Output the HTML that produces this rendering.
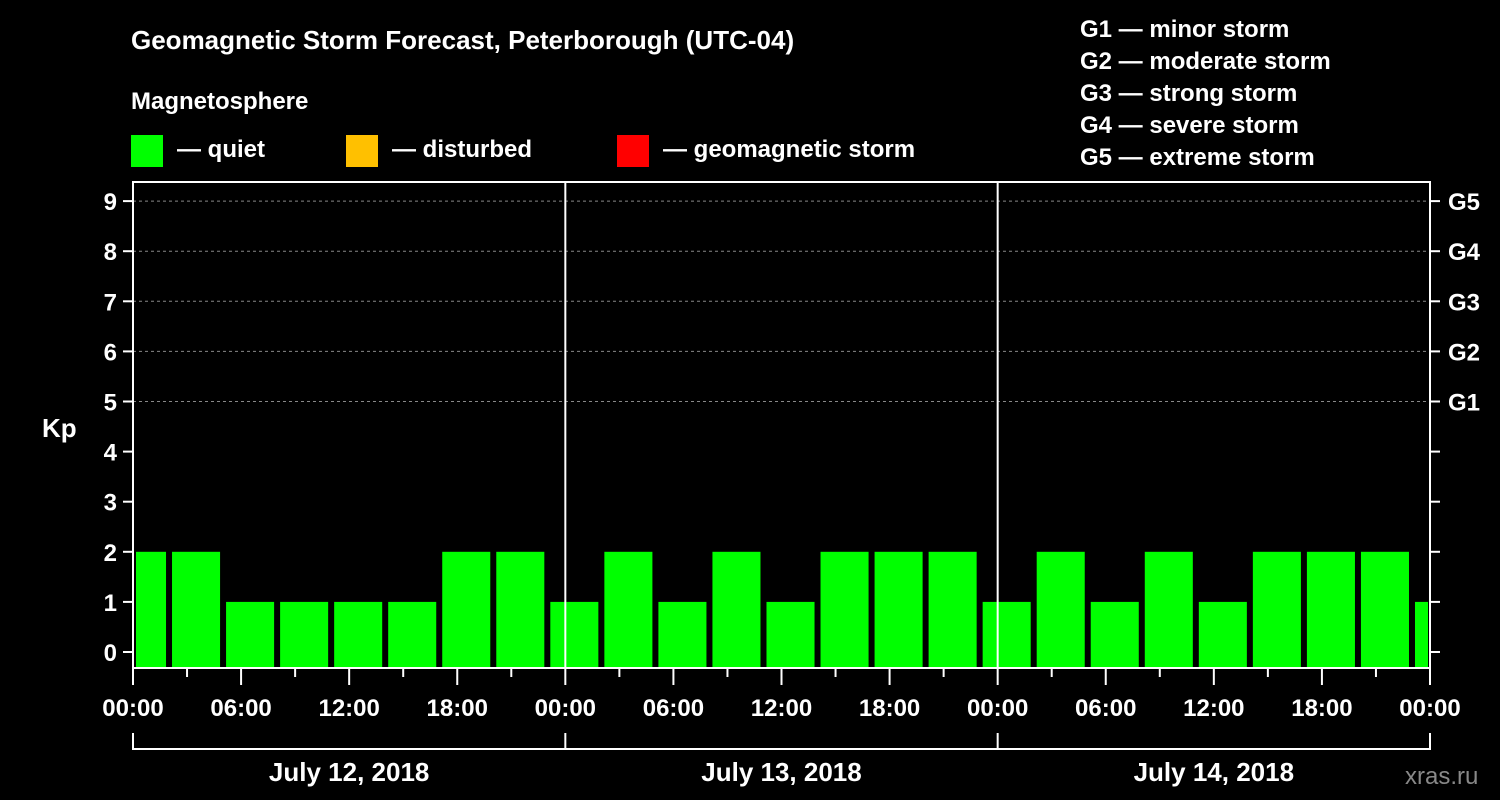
<!DOCTYPE html>
<html><head><meta charset="utf-8"><style>
body{margin:0;background:#000;}
svg{display:block;font-family:"Liberation Sans",sans-serif;font-weight:bold;}
</style></head><body>
<svg width="1500" height="800" viewBox="0 0 1500 800">
<text x="131" y="49" fill="#fff" font-size="26">Geomagnetic Storm Forecast, Peterborough (UTC-04)</text>
<text x="131" y="109" fill="#fff" font-size="24">Magnetosphere</text>
<g><rect x="131" y="135" width="32" height="32" fill="#00ff00"/><text x="177" y="157" fill="#fff" font-size="24">— quiet</text></g>
<g><rect x="346" y="135" width="32" height="32" fill="#ffc000"/><text x="392" y="157" fill="#fff" font-size="24">— disturbed</text></g>
<g><rect x="617" y="135" width="32" height="32" fill="#ff0000"/><text x="663" y="157" fill="#fff" font-size="24">— geomagnetic storm</text></g>
<g fill="#fff" font-size="24">
<text x="1080" y="37">G1 — minor storm</text>
<text x="1080" y="69">G2 — moderate storm</text>
<text x="1080" y="101">G3 — strong storm</text>
<text x="1080" y="133">G4 — severe storm</text>
<text x="1080" y="165">G5 — extreme storm</text>
</g>
<text x="42" y="437" fill="#fff" font-size="26">Kp</text>
<text x="1405" y="784" fill="#888" font-size="24" font-weight="normal">xras.ru</text>
<g id="plot"></g>
</svg>
<script>
const kpValues=[2,2,1,1,1,1,2,2,1,2,1,2,1,2,2,2,1,2,1,2,1,2,2,2,1];
const barStartHour=-1; // first bar starts 23:00 prior day
const yTicks=[0,1,2,3,4,5,6,7,8,9];
const gLabels=["G1","G2","G3","G4","G5"];
const dayLabels=["July 12, 2018","July 13, 2018","July 14, 2018"];
const hourLabels=["00:00","06:00","12:00","18:00"];
const X0=133,X1=1430,HOURS=72,Y0=652,PX=50.1,BOT=668,TOP=182;
const xs=h=>X0+(X1-X0)*h/HOURS;
const ys=v=>Y0-v*PX;
const NS="http://www.w3.org/2000/svg";
const plot=document.getElementById('plot');
function mk(t,a,p){const e=document.createElementNS(NS,t);for(const k in a)e.setAttribute(k,a[k]);(p||plot).appendChild(e);return e;}
kpValues.forEach((v,i)=>{
 let a=xs(barStartHour+i*3)+3,b=xs(barStartHour+i*3+3)-3;
 a=Math.max(a,X0+3);b=Math.min(b,X1-2);
 const col=v>=5?'#ff0000':(v>=4?'#ffc000':'#00ff00');
 const r=mk('rect',{x:a,y:ys(v),width:b-a,height:BOT-ys(v),fill:col});
 
 
});
yTicks.forEach(v=>{
 const y=ys(v);
 if(v>=5){const l=mk('line',{x1:X0,x2:X1,y1:y,y2:y,stroke:'#888','stroke-dasharray':'3,3'});}
 mk('line',{x1:X0-10,x2:X0,y1:y,y2:y,stroke:'#fff','stroke-width':2});
 mk('line',{x1:X1,x2:X1+10,y1:y,y2:y,stroke:'#fff','stroke-width':2});
 const t=mk('text',{x:X0-16,y:y+9,fill:'#fff','font-size':24,'text-anchor':'end'});t.textContent=v;
 
 
 if(v>=5){const g=mk('text',{x:X1+18,y:y+9,fill:'#fff','font-size':24});g.textContent=gLabels[v-5];
 
 }
});
for(let h=0;h<=HOURS;h+=3){
 const x=xs(h),major=h%6===0;
 mk('line',{x1:x,x2:x,y1:BOT,y2:BOT+(major?17:9),stroke:'#fff','stroke-width':2});
 if(major&&h%6===0&&(h%24===0||true)){
  const t=mk('text',{x:x,y:716,fill:'#fff','font-size':24,'text-anchor':'middle'});
  t.textContent=hourLabels[(h/6)%4];
  
  
 }
}
for(let d=1;d<3;d++){const x=xs(d*24);mk('line',{x1:x,x2:x,y1:TOP,y2:BOT,stroke:'#fff','stroke-width':2});}
mk('rect',{x:X0,y:TOP,width:X1-X0,height:BOT-TOP,fill:'none',stroke:'#fff','stroke-width':2});
mk('line',{x1:X0,x2:X1,y1:749,y2:749,stroke:'#fff','stroke-width':2});
for(let d=0;d<=3;d++){const x=xs(d*24);mk('line',{x1:x,x2:x,y1:733,y2:750,stroke:'#fff','stroke-width':2});}
dayLabels.forEach((s,i)=>{const t=mk('text',{x:xs(i*24+12),y:781,fill:'#fff','font-size':26,'text-anchor':'middle'});t.textContent=s;
 
 });
</script>
</body></html>
